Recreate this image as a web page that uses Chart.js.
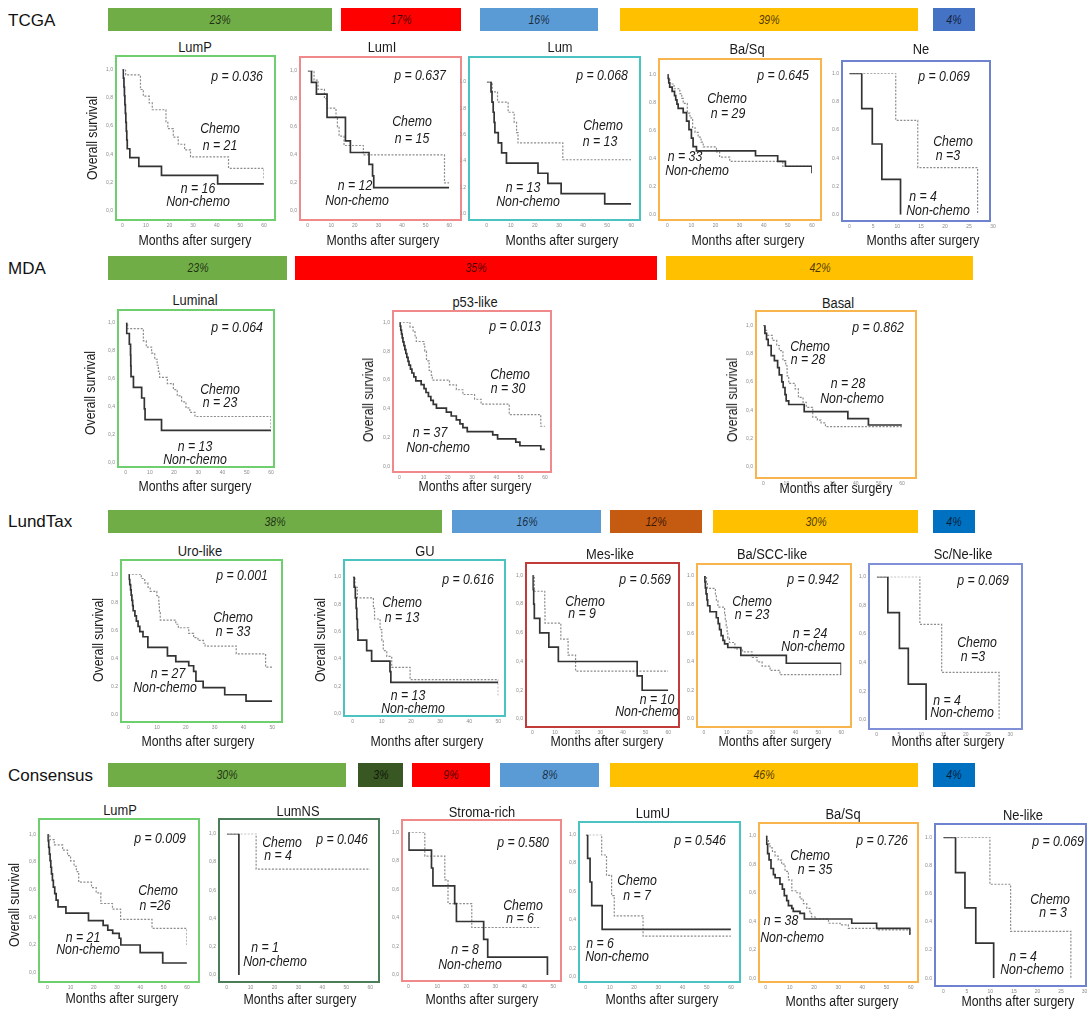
<!DOCTYPE html>
<html>
<head>
<meta charset="utf-8">
<script src="https://cdn.jsdelivr.net/npm/chart.js@4.4.1/dist/chart.umd.min.js"></script>
<style>
html, body { margin: 0; padding: 0; background: #fff; overflow: hidden; }
body { width: 1091px; height: 1014px; position: relative; font-family: "Liberation Sans", Arial, sans-serif; }
.t { position: absolute; white-space: nowrap; line-height: 1; color: #1a1a1a; font-size: 14px; transform: translate(-50%, -50%) scaleX(0.88); }
.i { font-style: italic; }
.ttl { transform: translate(-50%, -50%) scaleX(0.92); }
.rot { transform: translate(-50%, -50%) rotate(-90deg) scaleX(0.88); }
.box { position: absolute; box-sizing: border-box; border: 2px solid #000; }
.bar { position: absolute; box-sizing: border-box; }
.sec { position: absolute; font-size: 17px; line-height: 1; color: #111; transform: translateY(-50%); }
canvas { position: absolute; }
</style>
</head>
<body>
<script>
// Subtype shares shown in the coloured bars (%)
var tcgaShare = [23, 17, 16, 39, 4];
var mdaShare = [23, 35, 42];
var lundShare = [38, 16, 12, 30, 4];
var consShare = [30, 3, 9, 8, 46, 4];

// Kaplan-Meier curves, [months, overall survival]
// TCGA
var tcgaLumPChemo = [[0,1],[1.4,0.96],[7.7,0.857],[8.9,0.81],[11.4,0.762],[12.7,0.714],[18.5,0.63],[19.3,0.58],[21.6,0.52],[23.7,0.47],[26.4,0.43],[28.9,0.38],[45,0.30],[60,0.23]];
var tcgaLumPNon = [[0,1],[0.4,0.938],[0.7,0.875],[0.9,0.813],[1.1,0.75],[1.3,0.688],[1.5,0.625],[1.7,0.563],[1.9,0.5],[2.1,0.438],[3.2,0.375],[7,0.313],[16.6,0.25],[40.4,0.19],[60,0.19]];
var tcgaLumIChemo = [[0,1],[2.7,0.933],[4.4,0.867],[7.1,0.8],[8.2,0.733],[12,0.667],[12.6,0.6],[13.3,0.533],[15.4,0.467],[23.6,0.4],[58,0.2],[60,0.2]];
var tcgaLumINon = [[0,1],[1.6,0.917],[3.7,0.833],[8.2,0.667],[16,0.5],[18.1,0.417],[26,0.333],[27.5,0.25],[28,0.167],[60,0.167]];
var tcgaLumChemo = [[0,1],[2.3,0.923],[4.5,0.846],[8.9,0.769],[11.4,0.692],[12.4,0.615],[13,0.538],[31.6,0.41],[60,0.41]];
var tcgaLumNon = [[0,1],[1.8,0.923],[2.2,0.846],[2.7,0.769],[3.1,0.692],[3.4,0.615],[4.8,0.538],[6.2,0.462],[8.2,0.385],[21.3,0.308],[25.4,0.231],[30.9,0.154],[49,0.077],[60,0.077]];
var tcgaBaSqChemo = [[0,1],[0.4,0.966],[1,0.931],[2.8,0.897],[5.2,0.862],[6,0.828],[6.6,0.793],[8.3,0.724],[9.4,0.69],[10.5,0.621],[11.5,0.586],[12.8,0.552],[14,0.517],[14.9,0.483],[20.4,0.448],[21.7,0.41],[25.9,0.38],[47.9,0.345],[60,0.33]];
var tcgaBaSqNon = [[0,1],[0.3,0.97],[0.6,0.939],[1,0.909],[2,0.879],[3,0.848],[3.5,0.818],[4,0.788],[4.5,0.758],[6.6,0.727],[8,0.667],[9,0.606],[10,0.545],[10.7,0.485],[12.1,0.455],[36.6,0.42],[45.8,0.38],[49,0.345],[60,0.295]];
var tcgaNeChemo = [[0,1],[9.7,0.667],[14.3,0.333],[26.8,0]];
var tcgaNeNon = [[0,1],[2.6,0.75],[4.8,0.5],[6.8,0.25],[10.7,0]];
// MDA
var mdaLumChemo = [[0,1],[0.8,0.957],[7.3,0.87],[8.5,0.826],[10.7,0.783],[12,0.739],[13,0.696],[13.5,0.652],[14,0.609],[17.2,0.565],[19.7,0.522],[21.3,0.478],[23.1,0.435],[24.9,0.391],[26.5,0.36],[28.6,0.33],[60,0.22]];
var mdaLumNon = [[0,1],[0.4,0.923],[1.5,0.846],[2,0.769],[2.1,0.692],[2.2,0.615],[3.2,0.538],[6.6,0.462],[7.7,0.385],[8,0.308],[14.8,0.231],[60,0.231]];
var mdaP53Chemo = [[0,1],[4.4,0.967],[5.7,0.933],[6.5,0.9],[7,0.867],[10.2,0.833],[10.5,0.8],[11.2,0.733],[12.3,0.667],[13.2,0.633],[13.6,0.6],[20.7,0.567],[23.5,0.533],[26.2,0.5],[31,0.467],[33.7,0.433],[45.3,0.36],[58.3,0.28],[60,0.28]];
var mdaP53Non = [[0,1],[0.3,0.973],[0.6,0.946],[0.9,0.919],[1.2,0.892],[1.5,0.865],[1.9,0.838],[2.3,0.811],[2.7,0.784],[3.1,0.757],[3.6,0.73],[4,0.703],[4.6,0.676],[5.2,0.649],[6,0.622],[6.8,0.595],[9,0.568],[10.2,0.541],[11,0.514],[12,0.486],[13,0.459],[14,0.432],[15.3,0.405],[19.4,0.378],[21.4,0.351],[23.5,0.324],[25,0.297],[26.2,0.27],[28,0.243],[38.5,0.22],[40.5,0.193],[48,0.17],[49.7,0.145],[58.3,0.12],[60,0.12]];
var mdaBasalChemo = [[0,1],[0.7,0.964],[1.4,0.929],[3.9,0.893],[5.8,0.857],[6.9,0.821],[8.5,0.75],[9.7,0.714],[10.3,0.643],[11,0.589],[13.8,0.55],[15.2,0.49],[17.2,0.455],[18.6,0.42],[21.4,0.35],[23.4,0.33],[25,0.31],[26.9,0.284],[60,0.284]];
var mdaBasalNon = [[0,1],[0.7,0.943],[1.4,0.9],[2.1,0.857],[3.4,0.786],[4.8,0.75],[6.2,0.7],[6.9,0.65],[8,0.6],[8.6,0.56],[9.4,0.51],[9.9,0.465],[11,0.44],[17.7,0.39],[36.6,0.34],[45.5,0.295],[60,0.295]];
// LundTax
var lundUroChemo = [[0,1],[4.5,0.97],[5.7,0.939],[6.8,0.909],[7.6,0.879],[9.9,0.848],[10.6,0.788],[10.8,0.727],[11.1,0.675],[16.5,0.645],[17.4,0.62],[21,0.58],[22.7,0.55],[24.2,0.53],[26.1,0.51],[26.7,0.49],[37.5,0.435],[47.7,0.34],[50,0.34]];
var lundUroNon = [[0,1],[0.3,0.963],[0.5,0.926],[0.8,0.889],[1,0.852],[1.25,0.815],[1.5,0.778],[1.7,0.741],[2.3,0.704],[2.8,0.667],[3.4,0.63],[4,0.593],[5.1,0.556],[6.8,0.48],[13.6,0.42],[16.5,0.38],[21,0.35],[22.7,0.31],[23.5,0.24],[26,0.195],[33.5,0.144],[40.9,0.098],[50,0.098]];
var lundGUChemo = [[0,1],[0.8,0.923],[1.6,0.846],[7.1,0.769],[7.5,0.692],[9.4,0.615],[10,0.538],[10.5,0.462],[11.7,0.42],[13.4,0.34],[19.7,0.25],[50,0.13]];
var lundGUNon = [[0,1],[0.5,0.923],[0.9,0.846],[1.2,0.769],[1.4,0.692],[1.6,0.615],[1.8,0.538],[4.8,0.462],[6.5,0.385],[12.8,0.308],[13.1,0.231],[50,0.231]];
var lundMesChemo = [[0,1],[0.9,0.889],[5.5,0.778],[5.6,0.667],[12.6,0.556],[15.8,0.444],[19.1,0.333],[60,0.333]];
var lundMesNon = [[0,1],[0.3,0.9],[0.6,0.8],[0.9,0.7],[3.3,0.6],[7.3,0.5],[11.5,0.4],[46.3,0.3],[48.5,0.2],[60,0.2]];
var lundBaSCCChemo = [[0,1],[1.1,0.957],[1.5,0.913],[5,0.87],[5.4,0.826],[6.1,0.783],[9,0.739],[9.3,0.696],[9.7,0.652],[10.1,0.609],[10.4,0.565],[11.1,0.535],[13.5,0.49],[16.8,0.47],[21,0.43],[23.2,0.4],[25.4,0.37],[28.9,0.34],[33.2,0.31],[60,0.31]];
var lundBaSCCNon = [[0,1],[0.4,0.958],[0.6,0.917],[0.9,0.875],[1.3,0.833],[1.6,0.792],[2.6,0.75],[5.4,0.708],[6.2,0.667],[6.8,0.625],[7.5,0.583],[8.3,0.55],[9,0.525],[10.4,0.5],[16.1,0.445],[36,0.39],[60,0.31]];
var lundScNeChemo = [[0,1],[9.7,0.667],[14.6,0.333],[27.5,0]];
var lundScNeNon = [[0,1],[2.5,0.75],[5.1,0.5],[7.1,0.25],[11.1,0]];
// Consensus
var consLumPChemo = [[0,1],[1.1,0.962],[3,0.923],[6.6,0.885],[8.7,0.846],[10,0.808],[11.5,0.769],[12.5,0.731],[13.5,0.654],[19,0.615],[21,0.577],[23,0.5],[28,0.46],[31.5,0.385],[45,0.32],[60,0.2]];
var consLumPNon = [[0,1],[0.3,0.952],[0.6,0.905],[0.9,0.857],[1.2,0.81],[1.5,0.762],[1.8,0.714],[2.2,0.667],[2.6,0.619],[3.2,0.571],[3.8,0.524],[4.6,0.476],[8,0.43],[17.7,0.376],[24,0.342],[26,0.307],[28.1,0.284],[30.9,0.249],[31.6,0.2],[39.9,0.145],[49.6,0.07],[60,0.07]];
var consLumNSChemo = [[0,1],[12.3,0.75],[60,0.75]];
var consLumNSNon = [[0,1],[5.1,0]];
var consStromaChemo = [[0,1],[5.7,0.833],[12.6,0.667],[13.7,0.5],[21.9,0.333],[45.7,0.333]];
var consStromaNon = [[0,1],[0.2,0.875],[8,0.75],[8.5,0.625],[16,0.5],[16.6,0.375],[26,0.25],[27.4,0.125],[48,0]];
var consLumUChemo = [[0,1],[6.6,0.857],[8.6,0.714],[10.7,0.571],[11.8,0.429],[23.7,0.286],[60,0.286]];
var consLumUNon = [[0,1],[0.8,0.833],[1.8,0.667],[2.5,0.5],[6.8,0.333],[60,0.333]];
var consBaSqChemo = [[0,1],[0.4,0.971],[1.1,0.943],[1.8,0.914],[2.8,0.886],[3.9,0.857],[5.2,0.829],[6.6,0.8],[8,0.75],[9.4,0.69],[10.8,0.614],[12.5,0.6],[14.2,0.557],[15.6,0.523],[17,0.49],[18.3,0.455],[19,0.43],[20.5,0.416],[26,0.386],[30.8,0.375],[34.2,0.35],[46.6,0.34],[60,0.31]];
var consBaSqNon = [[0,1],[0.4,0.94],[0.8,0.875],[1.4,0.83],[2.2,0.77],[3.2,0.727],[3.9,0.705],[5.9,0.66],[6.9,0.625],[7.7,0.58],[8.7,0.545],[9.4,0.51],[10.8,0.49],[11.4,0.47],[14.2,0.455],[16,0.416],[35.6,0.386],[45.9,0.35],[59.7,0.31],[60,0.31]];
var consNeChemo = [[0,1],[9.9,0.667],[14.3,0.333],[27.1,0]];
var consNeNon = [[0,1],[2.6,0.75],[4.6,0.5],[6.9,0.25],[10.7,0]];

// Colours
var GREEN = '#70ad47', RED = '#ff0000', LBLUE = '#5b9bd5', YELLOW = '#ffc000';
var BOX_G = '#6fcf6f', BOX_R = '#f08a8a', BOX_T = '#4cc3c3', BOX_O = '#f8b54e', BOX_B = '#6f82cf';

// Section labels and share bars (layout)
var sections = [
    { name: 'TCGA', y: 20, top: 8, h: 23, share: tcgaShare,
      segs: [[108, 332, GREEN], [341, 461, RED], [480, 598, LBLUE], [620, 918, YELLOW], [933, 975, '#4472c4']] },
    { name: 'MDA', y: 268, top: 256, h: 24, share: mdaShare,
      segs: [[108, 287, GREEN], [295, 657, RED], [666, 973, YELLOW]] },
    { name: 'LundTax', y: 521, top: 510, h: 23, share: lundShare,
      segs: [[108, 442, GREEN], [452, 601, LBLUE], [610, 702, '#c55a11'], [713, 918, YELLOW], [933, 975, '#0070c0']] },
    { name: 'Consensus', y: 775, top: 763, h: 24, share: consShare,
      segs: [[108, 346, GREEN], [358, 403, '#385723'], [412, 490, RED], [500, 599, LBLUE], [610, 918, YELLOW], [933, 975, '#0070c0']] }
];

// Panel layout: box, axis range, pixel mapping of the plot area, text anchors
var panels = [
    // TCGA
    { title: 'LumP', box: [115, 55, 276, 221], col: BOX_G, x: [0, 60, 10], px: [122.3, 268.3], py: [65.7, 210.7], dec: ',',
      chemo: tcgaLumPChemo, non: tcgaLumPNon, tt: [195, 47], p: ['p = 0.036', 237, 76],
      c: ['Chemo', 220, 128, 'n = 21', 220, 145], n: ['n = 16', 198, 188, 'Non-chemo', 198, 201], m: [195, 240], os: [92, 138] },
    { title: 'LumI', box: [299, 56, 462, 221], col: BOX_R, x: [0, 60, 10], px: [307.7, 453.3], py: [65.7, 211], dec: ',',
      chemo: tcgaLumIChemo, non: tcgaLumINon, tt: [382, 47], p: ['p = 0.637', 420, 75],
      c: ['Chemo', 412, 121, 'n = 15', 412, 138], n: ['n = 12', 355, 185, 'Non-chemo', 357, 200], m: [383, 240] },
    { title: 'Lum', box: [468, 56, 641, 221], col: BOX_T, x: [0, 60, 10], px: [486.7, 632.3], py: [66.3, 214], dec: '.',
      chemo: tcgaLumChemo, non: tcgaLumNon, tt: [560, 47], p: ['p = 0.068', 602, 75],
      c: ['Chemo', 603, 125, 'n = 13', 600, 141], n: ['n = 13', 523, 187, 'Non-chemo', 528, 201], m: [562, 240] },
    { title: 'Ba/Sq', box: [658, 58, 822, 221], col: BOX_O, x: [0, 60, 10], px: [667.3, 812.7], py: [68, 214.7], dec: '.',
      chemo: tcgaBaSqChemo, non: tcgaBaSqNon, tt: [747, 49], p: ['p = 0.645', 783, 75],
      c: ['Chemo', 727, 98, 'n = 29', 728, 113], n: ['n = 33', 685, 156, 'Non-chemo', 697, 170], m: [748, 240] },
    { title: 'Ne', box: [841, 60, 991, 222], col: BOX_B, x: [0, 30, 5], px: [849.3, 995], py: [68.7, 214.7], dec: '.',
      chemo: tcgaNeChemo, non: tcgaNeNon, tt: [921, 49], p: ['p = 0.069', 944, 76],
      c: ['Chemo', 953, 141, 'n =3', 948, 155], n: ['n = 4', 923, 196, 'Non-chemo', 938, 210], m: [923, 240] },
    // MDA
    { title: 'Luminal', box: [117, 309, 275, 468], col: BOX_G, x: [0, 60, 10], px: [125.7, 271], py: [317.7, 462.7], dec: ',',
      chemo: mdaLumChemo, non: mdaLumNon, tt: [195, 300], p: ['p = 0.064', 237, 327],
      c: ['Chemo', 220, 389, 'n = 23', 220, 402], n: ['n = 13', 195, 446, 'Non-chemo', 195, 459], m: [195, 486], os: [90, 393] },
    { title: 'p53-like', box: [392, 310, 552, 473], col: BOX_R, x: [0, 60, 10], px: [399.3, 546], py: [318.3, 466.7], dec: ',',
      chemo: mdaP53Chemo, non: mdaP53Non, tt: [475, 302], p: ['p = 0.013', 515, 326],
      c: ['Chemo', 510, 374, 'n = 30', 508, 388], n: ['n = 37', 430, 432, 'Non-chemo', 438, 447], m: [475, 486], os: [368, 400] },
    { title: 'Basal', box: [755, 310, 917, 479], col: BOX_O, x: [0, 60, 10], px: [763.3, 908.3], py: [320, 466.7], dec: ',',
      chemo: mdaBasalChemo, non: mdaBasalNon, tt: [838, 303], p: ['p = 0.862', 878, 327],
      c: ['Chemo', 810, 346, 'n = 28', 808, 359], n: ['n = 28', 848, 383, 'Non-chemo', 852, 398], m: [836, 488], os: [732, 400] },
    // LundTax
    { title: 'Uro-like', box: [120, 559, 283, 723], col: BOX_G, x: [0, 50, 10], px: [128.3, 275], py: [569.3, 715], dec: '.',
      chemo: lundUroChemo, non: lundUroNon, tt: [200, 551], p: ['p = 0.001', 242, 575],
      c: ['Chemo', 233, 617, 'n = 33', 233, 631], n: ['n = 27', 168, 673, 'Non-chemo', 165, 687], m: [198, 741], os: [98, 640] },
    { title: 'GU', box: [343, 559, 506, 717], col: BOX_T, x: [0, 50, 10], px: [352.7, 498.3], py: [570.7, 714], dec: ',',
      chemo: lundGUChemo, non: lundGUNon, tt: [425, 551], p: ['p = 0.616', 468, 579],
      c: ['Chemo', 402, 602, 'n = 13', 402, 617], n: ['n = 13', 408, 695, 'Non-chemo', 413, 708], m: [427, 741], os: [320, 640] },
    { title: 'Mes-like', box: [525, 562, 680, 728], col: '#c23b3b', x: [0, 60, 10], px: [532.3, 671.7], py: [571.7, 719], dec: ',',
      chemo: lundMesChemo, non: lundMesNon, tt: [610, 554], p: ['p = 0.569', 645, 579],
      c: ['Chemo', 585, 601, 'n = 9', 582, 613], n: ['n = 10', 657, 699, 'Non-chemo', 647, 711], m: [607, 741] },
    { title: 'Ba/SCC-like', box: [696, 563, 852, 728], col: BOX_O, x: [0, 60, 10], px: [704, 844.3], py: [571.7, 719], dec: '.',
      chemo: lundBaSCCChemo, non: lundBaSCCNon, tt: [772, 554], p: ['p = 0.942', 813, 579],
      c: ['Chemo', 752, 601, 'n = 23', 752, 614], n: ['n = 24', 810, 633, 'Non-chemo', 813, 646], m: [775, 741] },
    { title: 'Sc/Ne-like', box: [868, 563, 1023, 730], col: '#7f8fd8', x: [0, 30, 5], px: [876.7, 1015], py: [571.7, 720], dec: ',',
      chemo: lundScNeChemo, non: lundScNeNon, tt: [963, 554], p: ['p = 0.069', 983, 580],
      c: ['Chemo', 977, 642, 'n =3', 973, 656], n: ['n = 4', 947, 700, 'Non-chemo', 962, 712], m: [948, 741] },
    // Consensus
    { title: 'LumP', box: [38, 818, 200, 983], col: BOX_G, x: [0, 60, 10], px: [47.3, 191.7], py: [828.3, 972.7], dec: ',',
      chemo: consLumPChemo, non: consLumPNon, tt: [120, 810], p: ['p = 0.009', 160, 838],
      c: ['Chemo', 158, 890, 'n =26', 155, 905], n: ['n = 21', 83, 937, 'Non-chemo', 88, 949], m: [122, 998], os: [14, 905] },
    { title: 'LumNS', box: [218, 818, 380, 983], col: '#4a7d58', x: [0, 60, 10], px: [226.7, 372.7], py: [828.3, 975], dec: ',',
      chemo: consLumNSChemo, non: consLumNSNon, tt: [298, 811], p: ['p = 0.046', 342, 839],
      c: ['Chemo', 282, 842, 'n = 4', 278, 855], n: ['n = 1', 265, 947, 'Non-chemo', 275, 961], m: [300, 999] },
    { title: 'Stroma-rich', box: [401, 819, 562, 982], col: BOX_R, x: [0, 50, 10], px: [408.3, 554.3], py: [828.3, 975], dec: ',',
      chemo: consStromaChemo, non: consStromaNon, tt: [482, 812], p: ['p = 0.580', 523, 842],
      c: ['Chemo', 523, 905, 'n = 6', 520, 918], n: ['n = 8', 465, 949, 'Non-chemo', 470, 964], m: [482, 999] },
    { title: 'LumU', box: [578, 821, 741, 983], col: BOX_T, x: [0, 60, 10], px: [585.7, 731.7], py: [830, 976.7], dec: ',',
      chemo: consLumUChemo, non: consLumUNon, tt: [653, 813], p: ['p = 0.546', 700, 840],
      c: ['Chemo', 637, 880, 'n = 7', 637, 895], n: ['n = 6', 600, 943, 'Non-chemo', 617, 956], m: [662, 999] },
    { title: 'Ba/Sq', box: [758, 822, 919, 983], col: BOX_O, x: [0, 60, 10], px: [765.7, 910.7], py: [831.7, 978.3], dec: ',',
      chemo: consBaSqChemo, non: consBaSqNon, tt: [843, 814], p: ['p = 0.726', 882, 840],
      c: ['Chemo', 810, 855, 'n = 35', 815, 869], n: ['n = 38', 781, 920, 'Non-chemo', 792, 937], m: [842, 1001] },
    { title: 'Ne-like', box: [934, 823, 1087, 987], col: BOX_B, x: [0, 30, 5], px: [943.3, 1088], py: [831.7, 978.3], dec: '.',
      chemo: consNeChemo, non: consNeNon, tt: [1023, 815], p: ['p = 0.069', 1058, 841],
      c: ['Chemo', 1050, 899, 'n = 3', 1053, 912], n: ['n = 4', 1023, 956, 'Non-chemo', 1032, 969], m: [1018, 1001] }
];

// Put a text label centred on (x, y)
function addText(str, x, y, cls, size) {
    var d = document.createElement('div');
    d.className = 't' + (cls ? ' ' + cls : '');
    d.textContent = str;
    d.style.left = x + 'px';
    d.style.top = y + 'px';
    if (size) d.style.fontSize = size + 'px';
    document.body.appendChild(d);
    return d;
}

function toXY(arr) {
    return arr.map(function(pt) { return { x: pt[0], y: pt[1] }; });
}

// Section names and the share bars
sections.forEach(function(s) {
    var lab = document.createElement('div');
    lab.className = 'sec';
    lab.textContent = s.name;
    lab.style.left = '8px';
    lab.style.top = s.y + 'px';
    document.body.appendChild(lab);

    s.segs.forEach(function(seg, k) {
        var b = document.createElement('div');
        b.className = 'bar';
        b.style.left = seg[0] + 'px';
        b.style.top = s.top + 'px';
        b.style.width = (seg[1] - seg[0]) + 'px';
        b.style.height = s.h + 'px';
        b.style.background = seg[2];
        document.body.appendChild(b);
        var t = addText(s.share[k] + '%', (seg[0] + seg[1]) / 2, s.top + s.h / 2, 'i', 12);
        t.style.color = 'rgba(0,0,0,0.72)';
    });
});

// One Kaplan-Meier chart per panel
function makePanel(p) {
    var WY = 26, PT = 8, PR = 10, HX = 26;
    var cl = Math.floor(p.px[0] - WY), ct = Math.floor(p.py[0] - PT);
    var cw = Math.ceil(p.px[1] + PR - cl), ch = Math.ceil(p.py[1] + HX - ct);
    var wy = p.px[0] - cl, pt = p.py[0] - ct;
    var pr = cw - (p.px[1] - cl), hx = ch - (p.py[1] - ct);

    var box = document.createElement('div');
    box.className = 'box';
    box.style.left = p.box[0] + 'px';
    box.style.top = p.box[1] + 'px';
    box.style.width = (p.box[2] - p.box[0]) + 'px';
    box.style.height = (p.box[3] - p.box[1]) + 'px';
    box.style.borderColor = p.col;
    document.body.appendChild(box);

    var cv = document.createElement('canvas');
    cv.width = cw;
    cv.height = ch;
    cv.style.left = cl + 'px';
    cv.style.top = ct + 'px';
    document.body.appendChild(cv);

    new Chart(cv, {
        type: 'line',
        data: {
            datasets: [{
                label: 'Non-chemo',
                data: toXY(p.non),
                borderColor: '#333333',
                borderWidth: 1.7,
                stepped: 'before',
                pointRadius: 0,
                fill: false
            }, {
                label: 'Chemo',
                data: toXY(p.chemo),
                borderColor: '#8c8c8c',
                borderWidth: 1.2,
                borderDash: [2, 1.5],
                stepped: 'before',
                pointRadius: 0,
                fill: false
            }]
        },
        options: {
            responsive: false,
            animation: false,
            events: [],
            layout: { padding: { left: 0, top: pt, right: pr, bottom: 0 } },
            plugins: { legend: { display: false }, tooltip: { enabled: false } },
            scales: {
                x: {
                    type: 'linear', min: p.x[0], max: p.x[1],
                    grid: { display: false, drawTicks: false }, border: { display: false },
                    ticks: { stepSize: p.x[2], autoSkip: false, maxRotation: 0, color: '#8a8a8a',
                             font: { size: 5 }, padding: p.box[3] + 2 - p.py[1] },
                    afterFit: function(s) { s.height = hx; }
                },
                y: {
                    min: 0, max: 1,
                    grid: { display: false, drawTicks: false }, border: { display: false },
                    ticks: { stepSize: 0.2, color: '#8a8a8a', font: { size: 5 }, padding: p.px[0] - p.box[0] + 2,
                             callback: function(v) { return v.toFixed(1).replace('.', p.dec); } },
                    afterFit: function(s) { s.width = wy; }
                }
            }
        }
    });

    addText(p.title, p.tt[0], p.tt[1], 'ttl', 14);
    addText(p.p[0], p.p[1], p.p[2], 'i');
    addText(p.c[0], p.c[1], p.c[2], 'i');
    addText(p.c[3], p.c[4], p.c[5], 'i');
    addText(p.n[0], p.n[1], p.n[2], 'i');
    addText(p.n[3], p.n[4], p.n[5], 'i');
    addText('Months after surgery', p.m[0], p.m[1]);
    if (p.os) addText('Overall survival', p.os[0], p.os[1], 'rot');
}

panels.forEach(makePanel);
</script>
</body>
</html>
